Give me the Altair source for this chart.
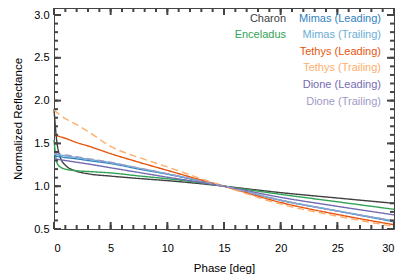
import altair as alt
import pandas as pd

phase = [0, 0.25, 0.5, 1, 2, 3, 5, 7.5, 10, 12.5, 15, 20, 25, 30]

charon          = [1.90, 1.52, 1.36, 1.245, 1.175, 1.145, 1.118, 1.09, 1.065, 1.035, 1.0, 0.925, 0.862, 0.80]
enceladus       = [1.54, 1.28, 1.23, 1.20, 1.18, 1.172, 1.155, 1.12, 1.087, 1.048, 1.0, 0.905, 0.818, 0.73]
mimas_leading   = [1.355, 1.35, 1.345, 1.335, 1.32, 1.30, 1.265, 1.20, 1.14, 1.072, 1.0, 0.835, 0.71, 0.585]
mimas_trailing  = [1.375, 1.37, 1.365, 1.355, 1.335, 1.315, 1.275, 1.21, 1.145, 1.075, 1.0, 0.838, 0.712, 0.595]
tethys_leading  = [1.60, 1.59, 1.58, 1.56, 1.51, 1.47, 1.38, 1.28, 1.185, 1.09, 1.0, 0.81, 0.67, 0.55]
tethys_trailing = [1.89, 1.86, 1.835, 1.79, 1.72, 1.64, 1.465, 1.335, 1.225, 1.11, 1.0, 0.79, 0.65, 0.53]
dione_leading   = [1.32, 1.315, 1.31, 1.30, 1.28, 1.26, 1.215, 1.16, 1.105, 1.055, 1.0, 0.87, 0.765, 0.665]
dione_trailing  = [1.385, 1.38, 1.375, 1.365, 1.345, 1.322, 1.28, 1.212, 1.147, 1.075, 1.0, 0.835, 0.71, 0.595]

names = ["Charon", "Enceladus", "Mimas (Leading)", "Mimas (Trailing)",
         "Tethys (Leading)", "Tethys (Trailing)", "Dione (Leading)", "Dione (Trailing)"]
series = [charon, enceladus, mimas_leading, mimas_trailing,
          tethys_leading, tethys_trailing, dione_leading, dione_trailing]
colors = ["#404040", "#31a354", "#3182bd", "#6baed6",
          "#e6550d", "#fdae6b", "#756bb1", "#9e9ac8"]
dashes = [[1, 0], [1, 0], [1, 0], [1, 0], [1, 0], [7, 4], [1, 0], [7, 4]]

legend_col = [0, 0, 1, 1, 1, 1, 1, 1]
legend_row = [0, 1, 0, 1, 2, 3, 4, 5]

x_major = [0, 5, 10, 15, 20, 25, 30]
x_minor = list(range(0, 31))
y_major = [0.5, 1.0, 1.5, 2.0, 2.5, 3.0]
y_minor = [round(0.5 + 0.1 * i, 1) for i in range(26)]

rows = []
for n, vals in zip(names, series):
    for p, v in zip(phase, vals):
        rows.append({"series": n, "phase": p, "value": v})
df = pd.DataFrame(rows)

leg = pd.DataFrame({"series": names, "col": legend_col, "row": legend_row})

W, H = 340, 221
FONT = "Liberation Sans"
FRAME = "#444444"
TICK = "#444444"
MAJ, MIN = 7, 4

xscale = alt.Scale(domain=[0, 30], nice=False, zero=False)
yscale = alt.Scale(domain=[0.5, 3.082], nice=False, zero=False)
cscale = alt.Scale(domain=names, range=colors)
dscale = alt.Scale(domain=names, range=dashes)

xaxis = alt.Axis(orient="bottom", values=x_major, format="d", tickSize=0,
                 domain=False, grid=False, labelPadding=13,
                 labelFontSize=11, labelFont=FONT, labelColor="black",
                 title="Phase [deg]", titleFont=FONT, titleFontSize=11.5,
                 titleFontWeight="normal", titleColor="black", titlePadding=9)
yaxis = alt.Axis(orient="left", values=y_major, format=".1f", tickSize=0,
                 domain=False, grid=False, labelPadding=5,
                 labelFontSize=11, labelFont=FONT, labelColor="black",
                 title="Normalized Reflectance", titleFont=FONT, titleFontSize=11.5,
                 titleFontWeight="normal", titleColor="black", titlePadding=10)

main = alt.Chart(df).mark_line(strokeWidth=1.4, interpolate="monotone").encode(
    x=alt.X("phase:Q", scale=xscale, axis=xaxis),
    y=alt.Y("value:Q", scale=yscale, axis=yaxis),
    color=alt.Color("series:N", scale=cscale, legend=None),
    strokeDash=alt.StrokeDash("series:N", scale=dscale, legend=None),
)

xmaj_df = pd.DataFrame({"xt": x_major})
xmin_df = pd.DataFrame({"xt": x_minor})
ymaj_df = pd.DataFrame({"yt": y_major})
ymin_df = pd.DataFrame({"yt": y_minor})


def xticks(data, size, center):
    return alt.Chart(data).mark_tick(
        color=TICK, thickness=2, size=size, orient="vertical", opacity=1
    ).encode(
        x=alt.X("xt:Q", scale=xscale, axis=xaxis),
        y=alt.value(center),
    )


def yticks(data, size, center):
    return alt.Chart(data).mark_tick(
        color=TICK, thickness=2, size=size, orient="horizontal", opacity=1
    ).encode(
        y=alt.Y("yt:Q", scale=yscale, axis=yaxis),
        x=alt.value(center),
    )


ticks = [
    xticks(xmin_df, MIN, H - MIN / 2), xticks(xmaj_df, MAJ, H - MAJ / 2),
    xticks(xmin_df, MIN, MIN / 2), xticks(xmaj_df, MAJ, MAJ / 2),
    yticks(ymin_df, MIN, MIN / 2), yticks(ymaj_df, MAJ, MAJ / 2),
    yticks(ymin_df, MIN, W - MIN / 2), yticks(ymaj_df, MAJ, W - MAJ / 2),
]


def legend_layer(col, xpx):
    return alt.Chart(leg).transform_filter(
        alt.datum.col == col
    ).transform_calculate(
        ypos="datum.row * 16.6 + 10.5"
    ).mark_text(align="right", baseline="middle", fontSize=11, font=FONT).encode(
        x=alt.value(xpx),
        y=alt.Y("ypos:Q", scale=None, axis=None),
        text="series:N",
        color=alt.Color("series:N", scale=cscale, legend=None),
    )


leg0 = legend_layer(0, 232)
leg1 = legend_layer(1, 327)

chart = alt.layer(main, *ticks, leg0, leg1).properties(
    width=W, height=H,
    autosize=alt.AutoSizeParams(type="none"),
    padding={"left": 46, "top": 0, "right": 13, "bottom": 46},
).configure_view(stroke=FRAME, strokeWidth=1)

chart.save("out.html", embed_options={"renderer": "svg", "actions": False})
